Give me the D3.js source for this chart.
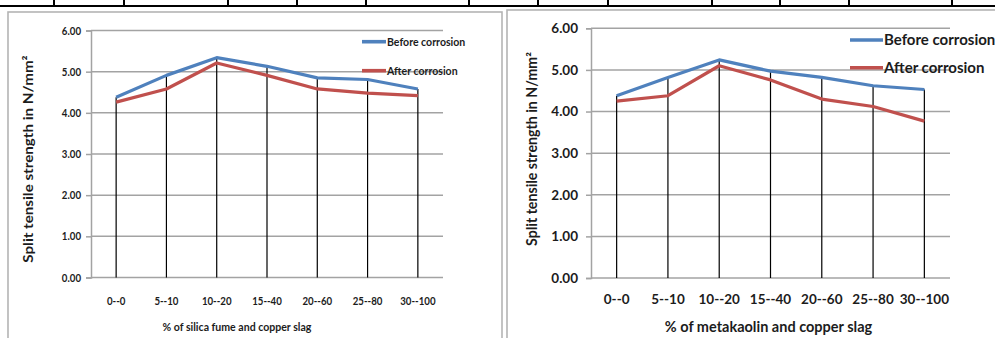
<!DOCTYPE html>
<html>
<head>
<meta charset="utf-8">
<script src="https://cdn.jsdelivr.net/npm/d3@7"></script>
<style>
  html, body { margin: 0; padding: 0; background: #fff; }
  svg { display: block; }
  text { font-family: Lato, "Open Sans", sans-serif; font-weight: 700; fill: #1c1c1c; }
</style>
</head>
<body>
<svg id="fig" width="995" height="338"></svg>
<script>
// Mix labels (replacement % of admixture -- % of copper slag)
const categories = ["0--0", "5--10", "10--20", "15--40", "20--60", "25--80", "30--100"];
const seriesNames = ["Before corrosion", "After corrosion"];
const yTicks = [0, 1, 2, 3, 4, 5, 6];

// Split tensile strength (N/mm²), silica fume + copper slag mixes
const silicaBefore = [4.38, 4.91, 5.34, 5.13, 4.85, 4.81, 4.58];
const silicaAfter  = [4.26, 4.58, 5.21, 4.91, 4.58, 4.48, 4.42];

// Split tensile strength (N/mm²), metakaolin + copper slag mixes
const metaBefore = [4.38, 4.82, 5.24, 4.97, 4.82, 4.62, 4.53];
const metaAfter  = [4.25, 4.38, 5.10, 4.76, 4.30, 4.12, 3.77];

const yTitle = "Split tensile strength in N/mm²";
const xTitleSilica = "% of silica fume and copper slag";
const xTitleMeta = "% of metakaolin and copper slag";

const colors = ["#4f81bd", "#c0504d"];
const svg = d3.select("#fig");

// Table rules running along the top of the page
const ruleCols = [54, 124, 228, 297, 366, 469, 538, 608, 712, 780, 849, 952];
svg.append("line").attr("x1", 0).attr("x2", 995).attr("y1", 6).attr("y2", 6)
  .attr("stroke", "#000").attr("stroke-width", 2);
svg.selectAll("line.col").data(ruleCols).join("line").attr("class", "col")
  .attr("x1", d => d).attr("x2", d => d).attr("y1", 0).attr("y2", 6)
  .attr("stroke", "#000").attr("stroke-width", 2);

// Horizontal squeeze of a text element about its own anchor
function squeeze(sel, sx) {
  if (sx === 1) return;
  sel.each(function () {
    const x = +(this.getAttribute("x") || 0);
    d3.select(this).attr("transform", `translate(${x},0) scale(${sx},1) translate(${-x},0)`);
  });
}

function drawPanel(p) {
  const g = svg.append("g");

  // chart frame
  g.append("rect").attr("x", p.frame[0]).attr("y", p.frame[1])
    .attr("width", p.frame[2]).attr("height", p.frame[3])
    .attr("fill", "none").attr("stroke", "#b4b4b4").attr("stroke-width", 1.6);

  const x = d3.scaleBand().domain(categories).range([p.left, p.right]);
  const y = d3.scaleLinear().domain([0, 6]).range([p.bottom, p.top]);

  // horizontal gridlines
  g.append("g").selectAll("line").data(yTicks).join("line")
    .attr("x1", p.left).attr("x2", p.right)
    .attr("y1", d => y(d)).attr("y2", d => y(d))
    .attr("stroke", "#a3a3a3").attr("stroke-width", 1.5);

  // value axis
  const yAxis = g.append("g").attr("transform", `translate(${p.left},0)`)
    .call(d3.axisLeft(y).tickValues(yTicks).tickFormat(d3.format(".2f"))
      .tickSize(5).tickPadding(p.yPad));
  yAxis.select(".domain").attr("stroke", "#a3a3a3").attr("stroke-width", 1.5);
  yAxis.selectAll(".tick line").attr("stroke", "#a3a3a3").attr("stroke-width", 1.5);
  yAxis.selectAll(".tick text").attr("font-size", p.tickFs).attr("fill", "#1c1c1c")
    .attr("font-family", null).call(squeeze, p.sx);

  // category axis labels
  const xAxis = g.append("g").attr("transform", `translate(0,${p.xLabelY})`)
    .call(d3.axisBottom(x).tickSize(0).tickPadding(0));
  xAxis.select(".domain").remove();
  xAxis.selectAll(".tick text").attr("font-size", p.tickFs).attr("fill", "#1c1c1c")
    .attr("font-family", null).attr("dy", "0.35em").call(squeeze, p.sx);

  // drop lines from the higher series down to zero
  g.append("g").selectAll("line").data(categories).join("line")
    .attr("x1", d => x(d) + x.bandwidth() / 2).attr("x2", d => x(d) + x.bandwidth() / 2)
    .attr("y1", (d, i) => y(Math.max(p.series[0][i], p.series[1][i])))
    .attr("y2", y(0))
    .attr("stroke", "#000").attr("stroke-width", 1.2);

  // series lines
  const line = d3.line()
    .x((d, i) => x(categories[i]) + x.bandwidth() / 2)
    .y(d => y(d));
  p.series.forEach((s, k) => {
    g.append("path").datum(s).attr("d", line)
      .attr("fill", "none").attr("stroke", colors[k]).attr("stroke-width", 3.2)
      .attr("stroke-linejoin", "round");
  });

  // legend
  seriesNames.forEach((name, k) => {
    const ly = p.legend.y[k];
    g.append("line").attr("x1", p.legend.x0).attr("x2", p.legend.x1)
      .attr("y1", ly).attr("y2", ly).attr("stroke", colors[k]).attr("stroke-width", 3.6);
    g.append("text").attr("x", p.legend.x1 + 1).attr("y", ly).attr("dy", "0.35em")
      .attr("font-size", p.legendFs).text(name).call(squeeze, p.sx);
  });

  // axis titles
  g.append("text").attr("x", (p.left + p.right) / 2 + p.xTitleShift).attr("y", p.xTitleY)
    .attr("dy", "0.35em").attr("text-anchor", "middle").attr("font-size", p.xTitleFs)
    .text(p.xTitle).call(squeeze, p.sx);

  g.append("g").attr("transform", `translate(${p.yTitleX},${p.yTitleY}) scale(${p.sx},1)`)
    .append("text").attr("transform", "rotate(-90)").attr("text-anchor", "middle")
    .attr("dy", "0.35em").attr("font-size", p.yTitleFs).text(yTitle);
}

drawPanel({
  frame: [8, 12, 494, 400],
  left: 91, right: 443, top: 30.5, bottom: 277.5,
  sx: 0.88, tickFs: 11, legendFs: 12, xTitleFs: 12, yTitleFs: 15.2,
  yPad: 5, yTitleX: 28, yTitleY: 159,
  xLabelY: 301, xTitleY: 327, xTitleShift: -30, xTitle: xTitleSilica,
  series: [silicaBefore, silicaAfter],
  legend: { x0: 362, x1: 386, y: [41.7, 70.7] }
});

drawPanel({
  frame: [507, 10, 600, 400],
  left: 591, right: 950, top: 28.3, bottom: 278,
  sx: 1, tickFs: 13.5, legendFs: 15, xTitleFs: 14.5, yTitleFs: 14.2,
  yPad: 8, yTitleX: 532, yTitleY: 149,
  xLabelY: 299.5, xTitleY: 327, xTitleShift: -2, xTitle: xTitleMeta,
  series: [metaBefore, metaAfter],
  legend: { x0: 850, x1: 883, y: [40, 67.7] }
});
</script>
</body>
</html>
